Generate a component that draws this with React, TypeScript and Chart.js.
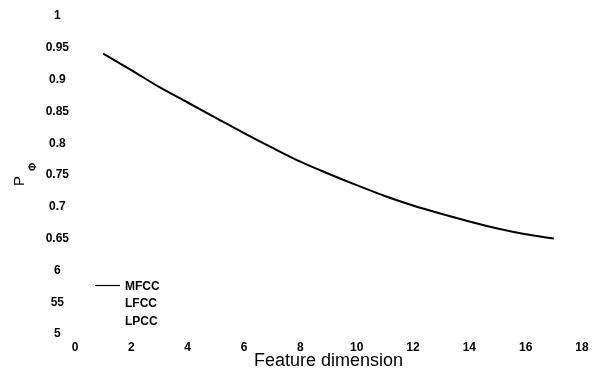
import { useEffect, useRef } from "react";
import { Chart, registerables } from "chart.js";

Chart.register(...registerables);

const xValues = [1, 2, 3, 4, 5, 6, 7, 8, 9, 10, 11, 12, 13, 14, 15, 16, 17];
const mfccValues = [0.941, 0.915, 0.888, 0.864, 0.84, 0.816, 0.793, 0.771, 0.752, 0.734, 0.717, 0.702, 0.689, 0.677, 0.666, 0.657, 0.65];
const lfccValues: number[] = [];
const lpccValues: number[] = [];
const seriesLabels = ["MFCC", "LFCC", "LPCC"];
const seriesColors = ["#000000", "rgba(0,0,0,0)", "rgba(0,0,0,0)"];
const xTickValues = [0, 2, 4, 6, 8, 10, 12, 14, 16, 18];
const yTickValues = [0.5, 0.55, 0.6, 0.65, 0.7, 0.75, 0.8, 0.85, 0.9, 0.95, 1];
const yTickLabels = ["5", "55", "6", "0.65", "0.7", "0.75", "0.8", "0.85", "0.9", "0.95", "1"];
const xTitle = "Feature dimension";
const yTitleMain = "P";
const yTitleSub = "\u03A6";

const FONT = "'Liberation Sans', Arial, Helvetica, sans-serif";

const toPoints = (ys: number[]) => ys.map((y, i) => ({ x: xValues[i], y }));

const overlayPlugin = {
  id: "overlay",
  afterDraw(chart: any) {
    const ctx = chart.ctx as CanvasRenderingContext2D;
    ctx.save();
    ctx.fillStyle = "#000";
    ctx.textBaseline = "middle";
    ctx.textAlign = "center";
    ctx.translate(20, 181);
    ctx.rotate(-Math.PI / 2);
    ctx.font = `15px ${FONT}`;
    ctx.fillText(yTitleMain, 0, 0);
    ctx.restore();
    ctx.save();
    ctx.fillStyle = "#000";
    ctx.textBaseline = "middle";
    ctx.textAlign = "center";
    ctx.translate(33, 167);
    ctx.rotate(-Math.PI / 2);
    ctx.font = `bold 10px ${FONT}`;
    ctx.fillText(yTitleSub, 0, 0);
    ctx.restore();

    ctx.save();
    ctx.font = `bold 12px ${FONT}`;
    ctx.textBaseline = "middle";
    ctx.textAlign = "left";
    chart.data.datasets.forEach((ds: any, i: number) => {
      const y = 285.5 + i * 17.5;
      ctx.strokeStyle = ds.borderColor;
      ctx.lineWidth = 1.2;
      ctx.beginPath();
      ctx.moveTo(95, y);
      ctx.lineTo(120, y);
      ctx.stroke();
      ctx.fillStyle = "#000";
      ctx.fillText(ds.label, 125, y + 1);
    });
    ctx.restore();
  },
};

export default function App() {
  const ref = useRef<HTMLCanvasElement>(null);
  useEffect(() => {
    document.body.style.margin = "0";
    const canvas = ref.current!;
    const series = [mfccValues, lfccValues, lpccValues];
    const chart = new Chart(canvas, {
      type: "line",
      data: {
        datasets: series.map((vals, i) => ({
          label: seriesLabels[i],
          data: toPoints(vals),
          borderColor: seriesColors[i],
          backgroundColor: seriesColors[i],
          borderWidth: 2,
          pointRadius: 0,
          tension: 0.4,
          cubicInterpolationMode: "monotone" as const,
          fill: false,
        })),
      },
      options: {
        animation: false,
        responsive: false,
        devicePixelRatio: 1,
        layout: { padding: { top: 16, right: 28, left: 0, bottom: 0 } },
        plugins: {
          legend: { display: false },
          tooltip: { enabled: false },
        },
        scales: {
          x: {
            type: "linear",
            min: 0,
            max: 18,
            grid: { display: false, drawTicks: false },
            border: { display: false },
            afterBuildTicks: (scale: any) => {
              scale.ticks = xTickValues.map((v) => ({ value: v }));
            },
            afterFit: (scale: any) => {
              scale.height = 39;
            },
            ticks: {
              padding: 6,
              color: "#000",
              font: { family: FONT, size: 12, weight: "bold" },
              maxRotation: 0,
              callback: (v: any) => String(v),
            },
            title: {
              display: true,
              text: xTitle,
              color: "#000",
              font: { family: FONT, size: 18 },
              padding: { top: 0, bottom: 1 },
            },
          },
          y: {
            type: "linear",
            min: 0.5,
            max: 1,
            grid: { display: false, drawTicks: false },
            border: { display: false },
            afterBuildTicks: (scale: any) => {
              scale.ticks = yTickValues.map((v) => ({ value: v }));
            },
            afterFit: (scale: any) => {
              scale.width = 75;
            },
            ticks: {
              padding: 6,
              crossAlign: "center",
              color: "#000",
              font: { family: FONT, size: 12, weight: "bold" },
              callback: (_v: any, i: number) => yTickLabels[i],
            },
          },
        },
      },
      plugins: [overlayPlugin],
    });
    return () => chart.destroy();
  }, []);
  return <canvas ref={ref} width={610} height={373} style={{ display: "block" }} />;
}
